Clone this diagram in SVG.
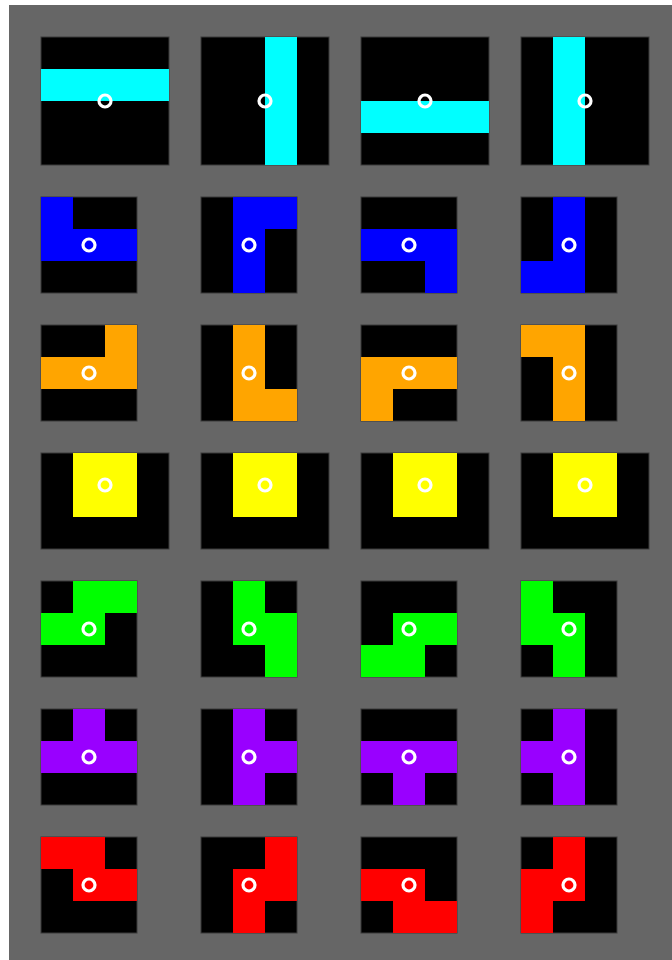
<svg xmlns="http://www.w3.org/2000/svg" width="672" height="960" viewBox="0 0 672 960">
<style>
.bg{fill:#666666}
.box{fill:#000000;stroke:#3a3a3a;stroke-width:1}
.I{fill:#00ffff}.J{fill:#0000ff}.L{fill:#ffa500}.O{fill:#ffff00}.S{fill:#00ff00}.T{fill:#9900ff}.Z{fill:#ff0000}
.pv{fill:none;stroke:#ffffff;stroke-width:3.2}
</style>
<defs>
<rect id="c" width="32" height="32"/>
</defs>
<rect x="0" y="0" width="672" height="960" fill="#ffffff"/>
<rect class="bg" x="9" y="5" width="663" height="955"/>

<!-- Row I -->
<g id="I0" transform="translate(41,37)"><rect class="box" width="128" height="128"/><rect class="I" x="0" y="32" width="128" height="32"/><circle class="pv" cx="64" cy="64" r="6"/></g>
<g id="I1" transform="translate(201,37)"><rect class="box" width="128" height="128"/><rect class="I" x="64" y="0" width="32" height="128"/><circle class="pv" cx="64" cy="64" r="6"/></g>
<g id="I2" transform="translate(361,37)"><rect class="box" width="128" height="128"/><rect class="I" x="0" y="64" width="128" height="32"/><circle class="pv" cx="64" cy="64" r="6"/></g>
<g id="I3" transform="translate(521,37)"><rect class="box" width="128" height="128"/><rect class="I" x="32" y="0" width="32" height="128"/><circle class="pv" cx="64" cy="64" r="6"/></g>

<!-- Row J -->
<g id="J0" transform="translate(41,197)"><rect class="box" width="96" height="96"/><g class="J"><rect x="0" y="0" width="32" height="32"/><rect x="0" y="32" width="96" height="32"/></g><circle class="pv" cx="48" cy="48" r="6"/></g>
<g id="J1" transform="translate(201,197)"><rect class="box" width="96" height="96"/><g class="J"><rect x="32" y="0" width="64" height="32"/><rect x="32" y="32" width="32" height="64"/></g><circle class="pv" cx="48" cy="48" r="6"/></g>
<g id="J2" transform="translate(361,197)"><rect class="box" width="96" height="96"/><g class="J"><rect x="0" y="32" width="96" height="32"/><rect x="64" y="64" width="32" height="32"/></g><circle class="pv" cx="48" cy="48" r="6"/></g>
<g id="J3" transform="translate(521,197)"><rect class="box" width="96" height="96"/><g class="J"><rect x="32" y="0" width="32" height="96"/><rect x="0" y="64" width="32" height="32"/></g><circle class="pv" cx="48" cy="48" r="6"/></g>

<!-- Row L -->
<g id="L0" transform="translate(41,325)"><rect class="box" width="96" height="96"/><g class="L"><rect x="64" y="0" width="32" height="32"/><rect x="0" y="32" width="96" height="32"/></g><circle class="pv" cx="48" cy="48" r="6"/></g>
<g id="L1" transform="translate(201,325)"><rect class="box" width="96" height="96"/><g class="L"><rect x="32" y="0" width="32" height="96"/><rect x="64" y="64" width="32" height="32"/></g><circle class="pv" cx="48" cy="48" r="6"/></g>
<g id="L2" transform="translate(361,325)"><rect class="box" width="96" height="96"/><g class="L"><rect x="0" y="32" width="96" height="32"/><rect x="0" y="64" width="32" height="32"/></g><circle class="pv" cx="48" cy="48" r="6"/></g>
<g id="L3" transform="translate(521,325)"><rect class="box" width="96" height="96"/><g class="L"><rect x="0" y="0" width="64" height="32"/><rect x="32" y="32" width="32" height="64"/></g><circle class="pv" cx="48" cy="48" r="6"/></g>

<!-- Row O -->
<g id="O0" transform="translate(41,453)"><rect class="box" width="128" height="96"/><rect class="O" x="32" y="0" width="64" height="64"/><circle class="pv" cx="64" cy="32" r="6"/></g>
<g id="O1" transform="translate(201,453)"><rect class="box" width="128" height="96"/><rect class="O" x="32" y="0" width="64" height="64"/><circle class="pv" cx="64" cy="32" r="6"/></g>
<g id="O2" transform="translate(361,453)"><rect class="box" width="128" height="96"/><rect class="O" x="32" y="0" width="64" height="64"/><circle class="pv" cx="64" cy="32" r="6"/></g>
<g id="O3" transform="translate(521,453)"><rect class="box" width="128" height="96"/><rect class="O" x="32" y="0" width="64" height="64"/><circle class="pv" cx="64" cy="32" r="6"/></g>

<!-- Row S -->
<g id="S0" transform="translate(41,581)"><rect class="box" width="96" height="96"/><g class="S"><rect x="32" y="0" width="64" height="32"/><rect x="0" y="32" width="64" height="32"/></g><circle class="pv" cx="48" cy="48" r="6"/></g>
<g id="S1" transform="translate(201,581)"><rect class="box" width="96" height="96"/><g class="S"><rect x="32" y="0" width="32" height="64"/><rect x="64" y="32" width="32" height="64"/></g><circle class="pv" cx="48" cy="48" r="6"/></g>
<g id="S2" transform="translate(361,581)"><rect class="box" width="96" height="96"/><g class="S"><rect x="32" y="32" width="64" height="32"/><rect x="0" y="64" width="64" height="32"/></g><circle class="pv" cx="48" cy="48" r="6"/></g>
<g id="S3" transform="translate(521,581)"><rect class="box" width="96" height="96"/><g class="S"><rect x="0" y="0" width="32" height="64"/><rect x="32" y="32" width="32" height="64"/></g><circle class="pv" cx="48" cy="48" r="6"/></g>

<!-- Row T -->
<g id="T0" transform="translate(41,709)"><rect class="box" width="96" height="96"/><g class="T"><rect x="32" y="0" width="32" height="32"/><rect x="0" y="32" width="96" height="32"/></g><circle class="pv" cx="48" cy="48" r="6"/></g>
<g id="T1" transform="translate(201,709)"><rect class="box" width="96" height="96"/><g class="T"><rect x="32" y="0" width="32" height="96"/><rect x="64" y="32" width="32" height="32"/></g><circle class="pv" cx="48" cy="48" r="6"/></g>
<g id="T2" transform="translate(361,709)"><rect class="box" width="96" height="96"/><g class="T"><rect x="0" y="32" width="96" height="32"/><rect x="32" y="64" width="32" height="32"/></g><circle class="pv" cx="48" cy="48" r="6"/></g>
<g id="T3" transform="translate(521,709)"><rect class="box" width="96" height="96"/><g class="T"><rect x="32" y="0" width="32" height="96"/><rect x="0" y="32" width="32" height="32"/></g><circle class="pv" cx="48" cy="48" r="6"/></g>

<!-- Row Z -->
<g id="Z0" transform="translate(41,837)"><rect class="box" width="96" height="96"/><g class="Z"><rect x="0" y="0" width="64" height="32"/><rect x="32" y="32" width="64" height="32"/></g><circle class="pv" cx="48" cy="48" r="6"/></g>
<g id="Z1" transform="translate(201,837)"><rect class="box" width="96" height="96"/><g class="Z"><rect x="64" y="0" width="32" height="64"/><rect x="32" y="32" width="32" height="64"/></g><circle class="pv" cx="48" cy="48" r="6"/></g>
<g id="Z2" transform="translate(361,837)"><rect class="box" width="96" height="96"/><g class="Z"><rect x="0" y="32" width="64" height="32"/><rect x="32" y="64" width="64" height="32"/></g><circle class="pv" cx="48" cy="48" r="6"/></g>
<g id="Z3" transform="translate(521,837)"><rect class="box" width="96" height="96"/><g class="Z"><rect x="32" y="0" width="32" height="64"/><rect x="0" y="32" width="32" height="64"/></g><circle class="pv" cx="48" cy="48" r="6"/></g>

<g id="connectors"></g>
</svg>
